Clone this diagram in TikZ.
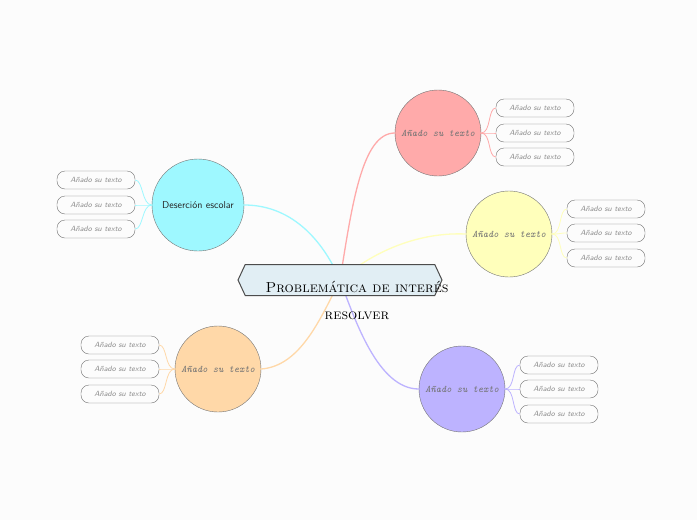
\documentclass[tikz,border=0pt]{standalone}
\usepackage{fontspec}
\usepackage{tikz}
\usetikzlibrary{shapes.symbols}
\definecolor{PaperBg}{RGB}{252,252,252}
\definecolor{HubBlue}{RGB}{225,238,244}
\definecolor{CyanTopic}{RGB}{158,248,255}
\definecolor{RedTopic}{RGB}{255,170,170}
\definecolor{YellowTopic}{RGB}{255,255,187}
\definecolor{OrangeTopic}{RGB}{255,216,168}
\definecolor{PurpleTopic}{RGB}{189,179,255}
\tikzset{
  topic/.style={circle, draw=black!55, minimum size=86pt, inner sep=0pt,
    font=\ttfamily\itshape\fontsize{10}{12}\selectfont, text=black!55},
  leaf/.style={draw=black!55, fill=PaperBg, rounded corners=8pt,
    minimum width=78pt, minimum height=18pt, inner sep=0pt,
    font=\sffamily\itshape\fontsize{7.6}{9}\selectfont, text=black!45},
  link/.style={line width=1.3pt},
  twig/.style={line width=0.8pt}
}

\begin{document}
\begin{tikzpicture}[x=1pt,y=-1pt]
                                \fill[PaperBg] (0,0) rectangle (697,520);
                                \useasboundingbox (0,0) rectangle (697,520);
                                \coordinate (hub) at (340,280);
                                % topics
                                \node[topic, fill=CyanTopic, minimum size=92pt, text=black!85,
                                font=\sffamily\fontsize{10}{12}\selectfont] (desercion) at (198,205) {Deserción escolar};
                                \node[topic, fill=RedTopic] (rojo) at (438,133) {Añado su texto};
                                \node[topic, fill=YellowTopic] (amarillo) at (509,234) {Añado su texto};
                                \node[topic, fill=OrangeTopic] (naranja) at (218,369) {Añado su texto};
                                \node[topic, fill=PurpleTopic] (morado) at (462,389) {Añado su texto};
                                % main links
                                \draw[link, CyanTopic] (desercion.east) .. controls (295,205) and (325,245) .. (hub);
                                \draw[link, RedTopic] (hub) .. controls (352,205) and (362,133) .. (rojo.west);
                                \draw[link, YellowTopic] (amarillo.west) .. controls (420,232) and (375,250) .. (hub);
                                \draw[link, OrangeTopic] (naranja.east) .. controls (300,366) and (320,320) .. (hub);
                                \draw[link, PurpleTopic] (hub) .. controls (355,320) and (378,389) .. (morado.west);
                                % central topic
                                \node[signal, signal to=west and east, signal pointer angle=130,
                                draw=black!70, line width=1pt, fill=HubBlue,
                                minimum width=204pt, minimum height=31pt, inner sep=0pt] (centro) at (340,280) {};
                                \node[font=\fontsize{14.5}{27}\selectfont\scshape, text=black, align=center]
                                (titulo) at (357,300) {Problemática de interés\\resolver};
                                % leaves
                                \foreach \k/\y in {1/180,2/205,3/229}{
                                \node[leaf] (izq\k) at (96,\y) {Añado su texto};
                                \draw[twig, CyanTopic] (desercion.west) .. controls +(-10,0) and +(8,0) .. (izq\k.east);
                                }
                                \foreach \k/\y in {1/108,2/133,3/157}{
                                \node[leaf] (roj\k) at (535,\y) {Añado su texto};
                                \draw[twig, RedTopic] (rojo.east) .. controls +(10,0) and +(-8,0) .. (roj\k.west);
                                }
                                \foreach \k/\y in {1/209,2/233,3/258}{
                                \node[leaf] (ama\k) at (606,\y) {Añado su texto};
                                \draw[twig, YellowTopic] (amarillo.east) .. controls +(10,0) and +(-8,0) .. (ama\k.west);
                                }
                                \foreach \k/\y in {1/345,2/369,3/394}{
                                \node[leaf] (nar\k) at (120,\y) {Añado su texto};
                                \draw[twig, OrangeTopic] (naranja.west) .. controls +(-10,0) and +(8,0) .. (nar\k.east);
                                }
                                \foreach \k/\y in {1/365,2/389,3/414}{
                                \node[leaf] (mor\k) at (559,\y) {Añado su texto};
                                \draw[twig, PurpleTopic] (morado.east) .. controls +(10,0) and +(-8,0) .. (mor\k.west);
                                }
                        \end{tikzpicture}
\end{document}
